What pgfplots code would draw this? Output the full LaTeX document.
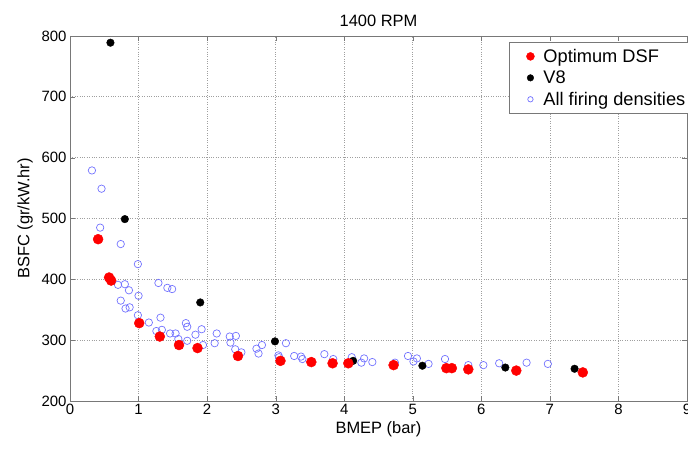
\documentclass[border=0pt]{standalone}
\usepackage{fontspec}
\setmainfont{Liberation Sans}
\usepackage{pgfplots}
\pgfplotsset{compat=1.18}
\definecolor{lblue}{RGB}{115,115,255}
\definecolor{axgray}{RGB}{120,120,120}
\begin{document}
\begin{tikzpicture}
\begin{axis}[
 scale only axis, width=617bp, height=365bp,
 xmin=0,xmax=9,ymin=200,ymax=800,
 xtick={0,...,9}, ytick={200,300,...,800},
 grid=major, grid style={dotted, gray!75, line width=0.7pt},
 axis line style={axgray},
 tick style={axgray},
 tick align=inside, major tick length=5bp,
 /pgf/number format/assume math mode=true,
 ticklabel style={font=\fontsize{15}{18}\selectfont},
 xlabel={BMEP (bar)}, ylabel={BSFC (gr/kW.hr)},
 ylabel style={yshift=2bp},
 label style={font=\fontsize{16.5}{20}\selectfont},
 title={1400 RPM}, title style={font=\fontsize{16.5}{20}\selectfont},
 legend style={at={(0.7119,0.984)}, anchor=north west, font=\fontsize{18.3}{22}\selectfont, draw=axgray, fill=white, inner xsep=5bp, inner ysep=5bp, row sep=3bp},
 legend cell align=left,
 reverse legend,
]
\coordinate (sw) at (rel axis cs:0,0);
\coordinate (ne) at (rel axis cs:1,1);
\addplot[only marks, mark=o, mark size=3.7bp, lblue, line width=0.7pt,
 legend image code/.code={\path[draw=none,fill=none] (0,0) -- (27bp,0); \draw[lblue, line width=0.7pt] (16bp,0) circle (2.7bp);}]
 table {
0.32 579
0.46 549
0.44 485
0.74 458
0.99 425
1.29 394
1.42 386
1.49 384
0.70 391
0.80 392
0.86 382
0.74 365
0.81 352
0.87 354
1.00 373
0.99 341
1.15 329
1.32 337
1.26 315
1.34 317
1.46 311
1.54 311
1.58 302
1.71 299
1.69 328
1.71 322
1.83 309
1.92 318
1.94 292
2.11 295
2.14 311
2.33 306
2.42 307
2.34 296
2.41 285
2.50 280
2.72 286
2.75 278
2.80 292
3.04 275
3.05 272
3.15 295
3.27 274
3.37 273
3.39 269
3.71 277
3.84 269
4.11 272
4.25 263
4.29 270
4.41 264
4.74 263
4.93 274
5.01 265
5.06 270
5.23 261
5.47 269
5.81 259
6.03 259
6.26 262
6.66 263
6.97 261
};
\addlegendentry{All firing densities}
\addplot[only marks, mark=*, mark size=3.8bp, black,
 legend image code/.code={\path[draw=none,fill=none] (0,0) -- (27bp,0); \fill[black] (16bp,0) circle (3.3bp);}]
 table {
0.59 789
0.80 499
1.90 362
2.99 298
4.13 266
5.14 258
6.35 255
7.36 253
};
\addlegendentry{V8}
\addplot[only marks, mark=*, mark size=5bp, red,
 legend image code/.code={\path[draw=none,fill=none] (0,0) -- (27bp,0); \fill[red] (16bp,0) circle (4bp);}]
 table {
0.41 466
0.57 403
0.60 398
1.01 328
1.31 306
1.59 292
1.86 287
2.45 274
3.07 266
3.52 264
3.83 262
4.06 262
4.72 259
5.49 254
5.57 254
5.81 252
6.51 250
7.48 247
};
\addlegendentry{Optimum DSF}
\end{axis}
\pgfresetboundingbox
\path[use as bounding box] ([xshift=-70bp,yshift=-55bp]sw) rectangle ([xshift=1bp,yshift=36bp]ne);
\end{tikzpicture}
\end{document}
